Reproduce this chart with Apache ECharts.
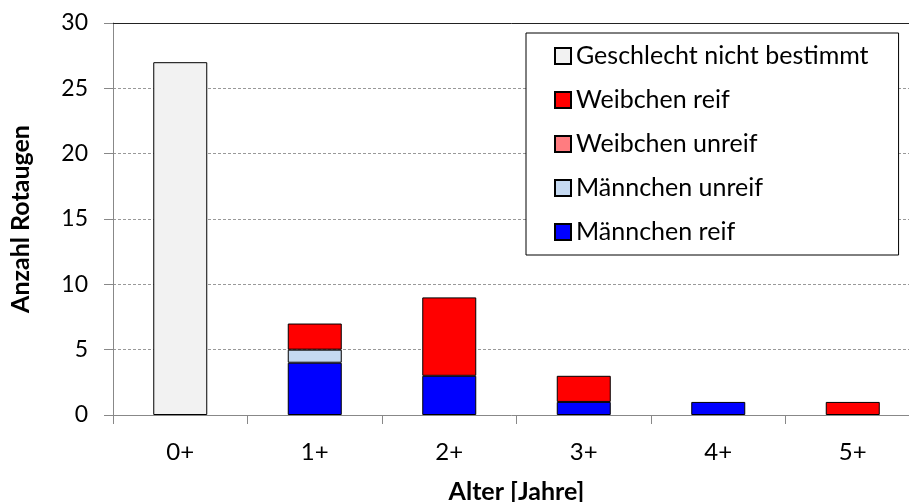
<!DOCTYPE html>
<html>
<head>
<meta charset="utf-8">
<script src="https://cdn.jsdelivr.net/npm/echarts@6/dist/echarts.min.js"></script>
<style>
  html, body { margin: 0; padding: 0; background: #fff; }
  #chart { width: 909px; height: 502px; }
</style>
</head>
<body>
<div id="chart"></div>
<script>
var ageClasses = ['0+', '1+', '2+', '3+', '4+', '5+']
// stacked from bottom to top, '-' = no bar segment
var maennchenReif = ['-', 4, 3, 1, 1, '-']
var maennchenUnreif = ['-', 1, '-', '-', '-', '-']
var weibchenUnreif = ['-', '-', '-', '-', '-', '-']
var weibchenReif = ['-', 2, 6, 2, '-', 1]
var nichtBestimmt = [27, '-', '-', '-', '-', '-']
var legendOrder = ['Geschlecht nicht bestimmt', 'Weibchen reif', 'Weibchen unreif', 'Männchen unreif', 'Männchen reif']

var font = 'Lato, "Open Sans", sans-serif'

function barSeries (name, data, color) {
  return {
    name: name,
    type: 'bar',
    stack: 'alter',
    barWidth: 54,
    data: data,
    itemStyle: { color: color, borderColor: '#000', borderWidth: 1 }
  }
}

var myChart = echarts.init(document.getElementById('chart'))
var option = {
  animation: false,
  textStyle: { fontFamily: font },
  grid: { left: 113, top: 23, width: 807, height: 392, outerBoundsMode: 'none' },
  legend: {
    orient: 'vertical',
    left: 526,
    top: 33,
    data: legendOrder,
    icon: 'rect',
    itemWidth: 16,
    itemHeight: 16,
    itemGap: 18,
    padding: [10, 30, 10, 28],
    borderColor: '#000',
    borderWidth: 1,
    backgroundColor: '#fff',
    textStyle: { fontSize: 25, color: '#000', fontFamily: font, lineHeight: 26 }
  },
  xAxis: [
    {
      type: 'category',
      data: ageClasses,
      name: 'Alter [Jahre]',
      nameLocation: 'middle',
      nameGap: 64,
      nameTextStyle: { fontSize: 25, fontWeight: 'bold', color: '#000' },
      axisLine: { lineStyle: { color: '#888' } },
      axisTick: { show: true, length: 9, lineStyle: { color: '#888' } },
      axisLabel: { fontSize: 24, color: '#000', margin: 25 }
    },
    {
      type: 'category',
      data: ageClasses,
      position: 'top',
      axisLine: { lineStyle: { color: '#222' } },
      axisTick: { show: false },
      axisLabel: { show: false }
    }
  ],
  yAxis: {
    type: 'value',
    min: 0,
    max: 30,
    interval: 5,
    name: 'Anzahl Rotaugen',
    nameLocation: 'middle',
    nameGap: 80,
    nameTextStyle: { fontSize: 25, fontWeight: 'bold', color: '#000' },
    axisLine: { show: true, lineStyle: { color: '#888' } },
    axisTick: { show: true, length: 9, lineStyle: { color: '#888' } },
    axisLabel: { fontSize: 23, color: '#000', margin: 25 },
    splitLine: { lineStyle: { color: '#999', type: [3, 2] } }
  },
  series: [
    barSeries('Männchen reif', maennchenReif, '#0000ff'),
    barSeries('Männchen unreif', maennchenUnreif, '#c5d9f1'),
    barSeries('Weibchen unreif', weibchenUnreif, '#ff7c80'),
    barSeries('Weibchen reif', weibchenReif, '#ff0000'),
    barSeries('Geschlecht nicht bestimmt', nichtBestimmt, '#f2f2f2')
  ]
}
myChart.setOption(option)
</script>
</body>
</html>
